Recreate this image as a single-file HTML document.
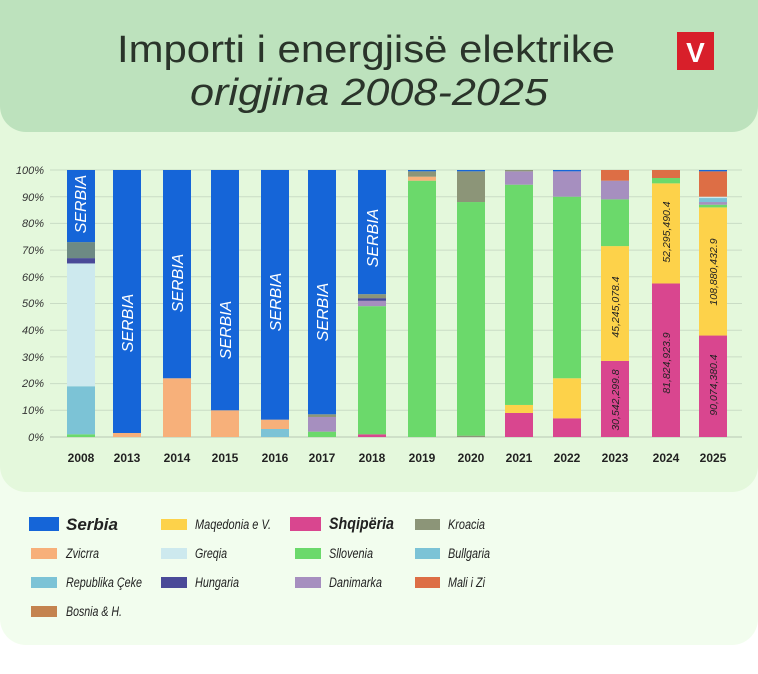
<!DOCTYPE html>
<html><head><meta charset="utf-8"><style>
body{margin:0;width:758px;height:669px;background:#fff;overflow:hidden;font-family:"Liberation Sans",sans-serif}
</style></head><body>
<svg width="758" height="669" xmlns="http://www.w3.org/2000/svg" font-family="Liberation Sans, sans-serif">
<rect x="0" y="0" width="758" height="645" rx="26" fill="#f2fdee"/>
<rect x="0" y="0" width="758" height="492" rx="26" fill="#e4f8dc"/>
<rect x="0" y="0" width="758" height="132" rx="26" fill="#bde2bd"/>
<rect x="0" y="0" width="758" height="40" fill="#bde2bd"/>
<text x="117" y="62" font-size="38" fill="#2a342a" textLength="498" lengthAdjust="spacingAndGlyphs">Importi i energjisë elektrike</text>
<text x="190" y="105" font-size="38" font-style="italic" fill="#2a342a" textLength="358" lengthAdjust="spacingAndGlyphs">origjina 2008-2025</text>
<rect x="677" y="32" width="37" height="38" fill="#d81f2a"/>
<text x="695.5" y="62" text-anchor="middle" font-size="28" font-weight="bold" fill="#fff">V</text>
<g stroke="#c9dcc5" stroke-width="1">
<line x1="50" x2="742" y1="170" y2="170"/><line x1="50" x2="742" y1="196.7" y2="196.7"/><line x1="50" x2="742" y1="223.4" y2="223.4"/><line x1="50" x2="742" y1="250.1" y2="250.1"/><line x1="50" x2="742" y1="276.8" y2="276.8"/><line x1="50" x2="742" y1="303.5" y2="303.5"/><line x1="50" x2="742" y1="330.2" y2="330.2"/><line x1="50" x2="742" y1="356.9" y2="356.9"/><line x1="50" x2="742" y1="383.6" y2="383.6"/><line x1="50" x2="742" y1="410.3" y2="410.3"/><line x1="50" x2="742" y1="437" y2="437" stroke="#b8c8b4"/>
</g>
<g font-size="11" font-style="italic" fill="#333" text-anchor="end">
<text x="44" y="174">100%</text><text x="44" y="201">90%</text><text x="44" y="227">80%</text><text x="44" y="254">70%</text><text x="44" y="281">60%</text><text x="44" y="307">50%</text><text x="44" y="334">40%</text><text x="44" y="361">30%</text><text x="44" y="387">20%</text><text x="44" y="414">10%</text><text x="44" y="441">0%</text>
</g>
<g transform="translate(0,437) scale(1,-2.67)">
<g transform="translate(67,0)">
<rect width="28" y="0" height="1" fill="#6bd96b"/><rect width="28" y="1" height="18" fill="#7cc3d6"/><rect width="28" y="19" height="46" fill="#cde9ee"/><rect width="28" y="65" height="2" fill="#4a4a98"/><rect width="28" y="67" height="6" fill="#6d8a84"/><rect width="28" y="73" height="27" fill="#1565d8"/></g>
<g transform="translate(113,0)"><rect width="28" y="0" height="1.5" fill="#f7b07a"/><rect width="28" y="1.5" height="98.5" fill="#1565d8"/></g>
<g transform="translate(163,0)"><rect width="28" y="0" height="22" fill="#f7b07a"/><rect width="28" y="22" height="78" fill="#1565d8"/></g>
<g transform="translate(211,0)"><rect width="28" y="0" height="10" fill="#f7b07a"/><rect width="28" y="10" height="90" fill="#1565d8"/></g>
<g transform="translate(261,0)"><rect width="28" y="0" height="3" fill="#7cc3d6"/><rect width="28" y="3" height="3.5" fill="#f7b07a"/><rect width="28" y="6.5" height="93.5" fill="#1565d8"/></g>
<g transform="translate(308,0)"><rect width="28" y="0" height="2" fill="#6bd96b"/><rect width="28" y="2" height="5.5" fill="#a68fbf"/><rect width="28" y="7.5" height="1" fill="#8c9578"/><rect width="28" y="8.5" height="91.5" fill="#1565d8"/></g>
<g transform="translate(358,0)"><rect width="28" y="0" height="1" fill="#d9468f"/><rect width="28" y="1" height="48" fill="#6bd96b"/><rect width="28" y="49" height="2" fill="#a68fbf"/><rect width="28" y="51" height="1" fill="#4a4a98"/><rect width="28" y="52" height="1.5" fill="#8c9578"/><rect width="28" y="53.5" height="46.5" fill="#1565d8"/></g>
<g transform="translate(408,0)"><rect width="28" y="0" height="96" fill="#6bd96b"/><rect width="28" y="96" height="1.5" fill="#f7b07a"/><rect width="28" y="97.5" height="2" fill="#8c9578"/><rect width="28" y="99.5" height="0.5" fill="#1565d8"/></g>
<g transform="translate(457,0)"><rect width="28" y="0" height="0.5" fill="#8c9578"/><rect width="28" y="0.5" height="87.5" fill="#6bd96b"/><rect width="28" y="88" height="11.5" fill="#8c9578"/><rect width="28" y="99.5" height="0.5" fill="#1565d8"/></g>
<g transform="translate(505,0)"><rect width="28" y="0" height="9" fill="#d9468f"/><rect width="28" y="9" height="3" fill="#fdd24a"/><rect width="28" y="12" height="82.5" fill="#6bd96b"/><rect width="28" y="94.5" height="5" fill="#a68fbf"/><rect width="28" y="99.5" height="0.5" fill="#8c9578"/></g>
<g transform="translate(553,0)"><rect width="28" y="0" height="7" fill="#d9468f"/><rect width="28" y="7" height="15" fill="#fdd24a"/><rect width="28" y="22" height="68" fill="#6bd96b"/><rect width="28" y="90" height="9.5" fill="#a68fbf"/><rect width="28" y="99.5" height="0.5" fill="#1565d8"/></g>
<g transform="translate(601,0)"><rect width="28" y="0" height="28.5" fill="#d9468f"/><rect width="28" y="28.5" height="43" fill="#fdd24a"/><rect width="28" y="71.5" height="17.5" fill="#6bd96b"/><rect width="28" y="89" height="7" fill="#a68fbf"/><rect width="28" y="96" height="4" fill="#dd6e45"/></g>
<g transform="translate(652,0)"><rect width="28" y="0" height="57.5" fill="#d9468f"/><rect width="28" y="57.5" height="37.5" fill="#fdd24a"/><rect width="28" y="95" height="2" fill="#6bd96b"/><rect width="28" y="97" height="3" fill="#dd6e45"/></g>
<g transform="translate(699,0)"><rect width="28" y="0" height="38" fill="#d9468f"/><rect width="28" y="38" height="48" fill="#fdd24a"/><rect width="28" y="86" height="1" fill="#6bd96b"/><rect width="28" y="87" height="1" fill="#a68fbf"/><rect width="28" y="88" height="1.5" fill="#7cc3d6"/><rect width="28" y="89.5" height="0.5" fill="#cde9ee"/><rect width="28" y="90" height="9.5" fill="#dd6e45"/><rect width="28" y="99.5" height="0.5" fill="#1565d8"/></g>
</g>
<g font-size="16" font-style="italic" fill="#fff" text-anchor="middle">
<text transform="translate(86,204) rotate(-90)">SERBIA</text>
<text transform="translate(133,323) rotate(-90)">SERBIA</text>
<text transform="translate(183,283) rotate(-90)">SERBIA</text>
<text transform="translate(231,330) rotate(-90)">SERBIA</text>
<text transform="translate(281,302) rotate(-90)">SERBIA</text>
<text transform="translate(328,312) rotate(-90)">SERBIA</text>
<text transform="translate(378,238) rotate(-90)">SERBIA</text>
</g>
<g font-size="10.5" font-style="italic" fill="#222" text-anchor="middle">
<text transform="translate(619,400) rotate(-90)">30,542,299.8</text>
<text transform="translate(619,307) rotate(-90)">45,245,078.4</text>
<text transform="translate(670,363) rotate(-90)">81,824,923.9</text>
<text transform="translate(670,232) rotate(-90)">52,295,490.4</text>
<text transform="translate(717,385) rotate(-90)">90,074,380.4</text>
<text transform="translate(717,272) rotate(-90)">108,880,432.9</text>
</g>
<g font-size="12" font-weight="bold" fill="#222" text-anchor="middle">
<text x="81" y="462">2008</text><text x="127" y="462">2013</text><text x="177" y="462">2014</text><text x="225" y="462">2015</text><text x="275" y="462">2016</text><text x="322" y="462">2017</text><text x="372" y="462">2018</text><text x="422" y="462">2019</text><text x="471" y="462">2020</text><text x="519" y="462">2021</text><text x="567" y="462">2022</text><text x="615" y="462">2023</text><text x="666" y="462">2024</text><text x="713" y="462">2025</text>
</g>
<g font-size="13.5" font-style="italic" fill="#222">
<rect x="29" y="517" width="30" height="14" fill="#1565d8"/><text x="66" y="530" font-size="17" font-weight="bold">Serbia</text>
<rect x="31" y="548" width="26" height="11" fill="#f7b07a"/><text x="66" y="558" textLength="33" lengthAdjust="spacingAndGlyphs">Zvicrra</text>
<rect x="31" y="577" width="26" height="11" fill="#7cc3d6"/><text x="66" y="587" textLength="76" lengthAdjust="spacingAndGlyphs">Republika Çeke</text>
<rect x="31" y="606" width="26" height="11" fill="#c4834f"/><text x="66" y="616" textLength="56" lengthAdjust="spacingAndGlyphs">Bosnia &amp; H.</text>
<rect x="161" y="519" width="26" height="11" fill="#fdd24a"/><text x="195" y="529" textLength="76" lengthAdjust="spacingAndGlyphs">Maqedonia e V.</text>
<rect x="161" y="548" width="26" height="11" fill="#cde9ee"/><text x="195" y="558" textLength="32" lengthAdjust="spacingAndGlyphs">Greqia</text>
<rect x="161" y="577" width="26" height="11" fill="#4a4a98"/><text x="195" y="587" textLength="44" lengthAdjust="spacingAndGlyphs">Hungaria</text>
<rect x="290" y="517" width="31" height="14" fill="#d9468f"/><text x="329" y="529" font-size="17" font-weight="bold" textLength="65" lengthAdjust="spacingAndGlyphs">Shqipëria</text>
<rect x="295" y="548" width="26" height="11" fill="#6bd96b"/><text x="329" y="558" textLength="44" lengthAdjust="spacingAndGlyphs">Sllovenia</text>
<rect x="295" y="577" width="26" height="11" fill="#a68fbf"/><text x="329" y="587" textLength="53" lengthAdjust="spacingAndGlyphs">Danimarka</text>
<rect x="415" y="519" width="25" height="11" fill="#8c9578"/><text x="448" y="529" textLength="37" lengthAdjust="spacingAndGlyphs">Kroacia</text>
<rect x="415" y="548" width="25" height="11" fill="#7cc3d6"/><text x="448" y="558" textLength="42" lengthAdjust="spacingAndGlyphs">Bullgaria</text>
<rect x="415" y="577" width="25" height="11" fill="#dd6e45"/><text x="448" y="587" textLength="37" lengthAdjust="spacingAndGlyphs">Mali i Zi</text>
</g>
</svg>
</body></html>
